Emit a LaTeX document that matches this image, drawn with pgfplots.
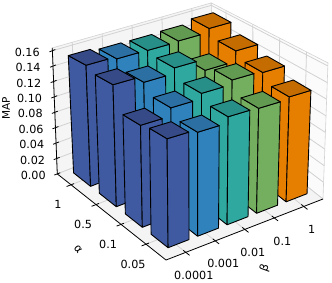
\documentclass[border=0pt]{standalone}
\usepackage{fontspec}
\setmainfont{DejaVu Sans}
\usepackage{pgfplots}
\pgfplotsset{compat=1.18}
\definecolor{sA}{HTML}{3F5AA0}\definecolor{tA}{HTML}{354A86}
\definecolor{sB}{HTML}{3082BD}\definecolor{tB}{HTML}{2B6FA3}
\definecolor{sC}{HTML}{2FA9A0}\definecolor{tC}{HTML}{288F88}
\definecolor{sD}{HTML}{74AF5F}\definecolor{tD}{HTML}{629A52}
\definecolor{sE}{HTML}{E67E00}\definecolor{tE}{HTML}{C46C00}
\definecolor{gridc}{HTML}{D2D2D2}
% perspective of the reference: verticals lean, and heights shrink with depth
\newcommand\pp[3]{({(#1)+(29.5*((#1)+.67)-25*((#2)+.8)-31)*.045*(#3/.16)/44},{(#2)-(29.5*((#1)+.67)-25*((#2)+.8)-31)*.045*(#3/.16)/76},{(#3)*(1.2065-.02393*((#1)+.67)-.04747*((#2)+.8))})}
\newcommand\onebar[7]{%
 \edef\tmp{\noexpand\addplot3[fill=#6,draw=black,line width=0.9pt,line join=round] coordinates {(#1,#3,0) (#1,#4,0) \pp{#1}{#4}{#5} \pp{#1}{#3}{#5} (#1,#3,0)};}\tmp
 \edef\tmp{\noexpand\addplot3[fill=#6,draw=black,line width=0.9pt,line join=round] coordinates {(#1,#3,0) (#2,#3,0) \pp{#2}{#3}{#5} \pp{#1}{#3}{#5} (#1,#3,0)};}\tmp
 \edef\tmp{\noexpand\addplot3[fill=#7,draw=black,line width=0.9pt,line join=round] coordinates {\pp{#1}{#3}{#5} \pp{#2}{#3}{#5} \pp{#2}{#4}{#5} \pp{#1}{#4}{#5} \pp{#1}{#3}{#5}};}\tmp
}
\newcommand\wallz[1]{%
 \addplot3[gridc,line width=0.8pt] coordinates {({-.67-.114*#1/.1636},{3.55+.066*#1/.1636},#1) ({4.65-.068*#1/.1636},{3.55+.039*#1/.1636},{.873*#1}) ({4.65+.114*#1/.1636},{-.8-.066*#1/.1636},{1.08*#1})};
 \addplot3[black,line width=0.8pt] coordinates {({-.67-.114*#1/.1636-.1},{3.55+.066*#1/.1636},#1) ({-.67-.114*#1/.1636+.1},{3.55+.066*#1/.1636},#1)};
}
\newcommand\wallx[1]{% vertical line on the left wall at x
 \addplot3[gridc,line width=0.8pt] coordinates {(#1,-.8,0) (#1,3.55,0) ({#1-(.114-.046*(#1+.67)/5.32)},{3.55+.066-.027*(#1+.67)/5.32},{.1636*(1-.127*(#1+.67)/5.32)})};
 \addplot3[black,line width=0.8pt] coordinates {(#1,-.7,0) (#1,-.95,0)};
}
\newcommand\wally[1]{% vertical line on the right wall at y
 \addplot3[gridc,line width=0.8pt] coordinates {(-.67,#1,0) (4.65,#1,0) ({4.65+.114-.182*(#1+.8)/4.35},{-.066+.105*(#1+.8)/4.35+#1},{.1636*(1.08-.207*(#1+.8)/4.35)})};
 \addplot3[black,line width=0.8pt] coordinates {(-.57,#1,0) (-.82,#1,0)};
}
\begin{document}
\begin{tikzpicture}
\path[use as bounding box] (0,0) rectangle (332pt,282pt);
\begin{axis}[
  at={(165.8pt,45.5pt)},anchor=origin,
  x={(29.5pt,11.47pt)},y={(-25pt,19.8pt)},z={(0pt,770pt)},
  xmin=-.67,xmax=4.65,ymin=-.8,ymax=3.55,zmin=0,zmax=.1636,
  clip=false,
  axis line style={draw=none},major tick length=0pt,
  xtick={0,1,2,3,4},xticklabels={0.0001,0.001,0.01,0.1,1},
  ytick={0,1,2,3},yticklabels={0.05,0.1,0.5,1},
  ztick={0,.02,.04,.06,.08,.1,.12,.14,.16},
  zticklabels={0.00,0.02\hspace*{.7pt},0.04\hspace*{1.5pt},0.06\hspace*{2.2pt},0.08\hspace*{3pt},0.10\hspace*{3.7pt},0.12\hspace*{4.5pt},0.14\hspace*{5.2pt},0.16\hspace*{6pt}},
  x tick label style={anchor=center,xshift=8pt,yshift=-23pt,font=\fontsize{11.2}{12}\selectfont},
  y tick label style={anchor=center,xshift=-13pt,yshift=-20pt,font=\fontsize{11.2}{12}\selectfont},
  z tick label style={anchor=east,xshift=-8pt,yshift=-1.5pt,font=\fontsize{11.2}{12}\selectfont},
  xlabel={β},ylabel={α},zlabel={MAP},
  xlabel style={at={(axis cs:1.35,-2.375,0)},anchor=center,rotate=70,font=\fontsize{11.2}{12}\selectfont},
  ylabel style={at={(axis cs:-2.354,.731,0)},anchor=center,rotate=-50,font=\fontsize{11.2}{12}\selectfont},
  zlabel style={at={(axis cs:.056,6.455,0)},anchor=center,rotate=0,font=\fontsize{10.5}{12}\selectfont},
]
% panes
\addplot3[fill=gray!8,draw=gridc,line width=.6pt] coordinates {(-.67,3.55,0) (4.65,3.55,0) (4.582,3.589,.1428) (-.784,3.616,.1636) (-.67,3.55,0)};
\addplot3[fill=gray!3,draw=gridc,line width=.6pt] coordinates {(4.65,3.55,0) (4.65,-.8,0) (4.764,-.866,.1767) (4.582,3.589,.1428) (4.65,3.55,0)};
\addplot3[fill=gray!9,draw=none] coordinates {(-.67,-.8,0) (4.65,-.8,0) (4.65,3.55,0) (-.67,3.55,0) (-.67,-.8,0)};
% grid
\wallz{.02}\wallz{.04}\wallz{.06}\wallz{.08}\wallz{.1}\wallz{.12}\wallz{.14}\wallz{.16}\wallz{0}
\wallx{0}\wallx{1}\wallx{2}\wallx{3}\wallx{4}
\wally{0}\wally{1}\wally{2}\wally{3}
% axis lines
\addplot3[black,line width=.8pt] coordinates {(-.67,3.55,0) (-.67,-.8,0) (4.65,-.8,0)};
\addplot3[black,line width=.8pt] coordinates {(-.67,3.55,0) (-.784,3.616,.1636)};
% bars: alpha=1
\onebar{3.73}{4.44}{2.69}{3.37}{.1555}{sE}{tE}
\onebar{2.73}{3.44}{2.69}{3.37}{.1502}{sD}{tD}
\onebar{1.73}{2.44}{2.69}{3.37}{.1492}{sC}{tC}
\onebar{.73}{1.44}{2.69}{3.37}{.1496}{sB}{tB}
\onebar{-.27}{.44}{2.69}{3.37}{.1525}{sA}{tA}
% alpha=0.5
\onebar{3.73}{4.44}{1.66}{2.34}{.1451}{sE}{tE}
\onebar{2.73}{3.44}{1.66}{2.34}{.1314}{sD}{tD}
\onebar{1.73}{2.44}{1.66}{2.34}{.1459}{sC}{tC}
\onebar{.73}{1.44}{1.66}{2.34}{.1389}{sB}{tB}
\onebar{-.27}{.44}{1.66}{2.34}{.1467}{sA}{tA}
% alpha=0.1
\onebar{3.73}{4.44}{.62}{1.30}{.1369}{sE}{tE}
\onebar{2.73}{3.44}{.62}{1.30}{.1387}{sD}{tD}
\onebar{1.73}{2.44}{.62}{1.30}{.1333}{sC}{tC}
\onebar{.73}{1.44}{.62}{1.30}{.1269}{sB}{tB}
\onebar{-.27}{.44}{.62}{1.30}{.1173}{sA}{tA}
% alpha=0.05
\onebar{3.73}{4.44}{-.41}{.27}{.1259}{sE}{tE}
\onebar{2.73}{3.44}{-.41}{.27}{.1232}{sD}{tD}
\onebar{1.73}{2.44}{-.41}{.27}{.1241}{sC}{tC}
\onebar{.73}{1.44}{-.41}{.27}{.1170}{sB}{tB}
\onebar{-.27}{.44}{-.41}{.27}{.1201}{sA}{tA}
\end{axis}
\end{tikzpicture}
\end{document}
